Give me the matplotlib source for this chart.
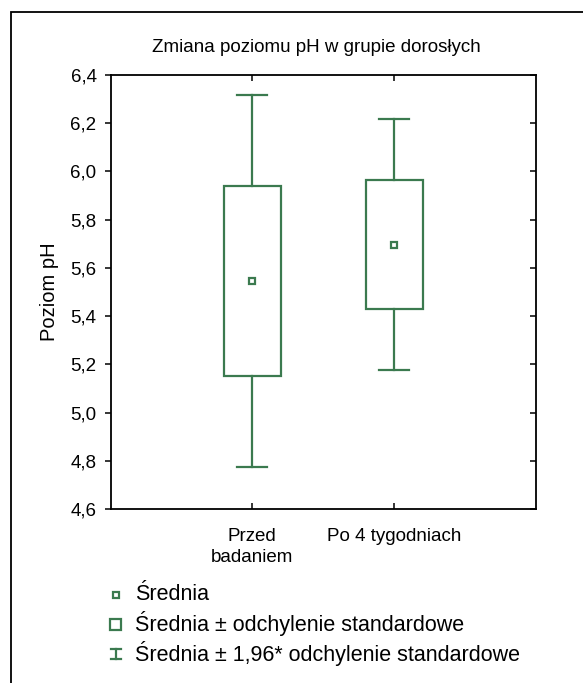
import matplotlib
matplotlib.use("Agg")
import matplotlib.pyplot as plt
from matplotlib.lines import Line2D
from matplotlib.patches import Rectangle
import numpy as np

plt.rcParams['font.family'] = ['Liberation Sans', 'DejaVu Sans']

# Data
categories = ["Przed\nbadaniem", "Po 4 tygodniach"]
means = [5.545, 5.697]
sds = [0.393, 0.266]
whisker_factor = 1.96
y_ticks = [4.6, 4.8, 5.0, 5.2, 5.4, 5.6, 5.8, 6.0, 6.2, 6.4]
y_tick_labels = ["4,6", "4,8", "5,0", "5,2", "5,4", "5,6", "5,8", "6,0", "6,2", "6,4"]
legend_labels = ["Średnia",
                 "Średnia ± odchylenie standardowe",
                 "Średnia ± 1,96* odchylenie standardowe"]

W, H = 583, 683
DPI = 100
green = "#3b7a4f"

fig = plt.figure(figsize=(W / DPI, H / DPI), dpi=DPI)

def fx(px):
    return px / W

def fy(py):
    return 1 - py / H

# outer frame (runs off the right and bottom edges)
fig.add_artist(Rectangle((fx(10.5), fy(800)), fx(700), fy(12.5) - fy(800),
                         transform=fig.transFigure, fill=False,
                         edgecolor="black", lw=1.3))

ax = fig.add_axes([fx(110.5), fy(509), fx(536) - fx(110.5), fy(75) - fy(509)])
x = np.arange(len(categories))
box_w = 0.40
cap_w = 0.21
lw = 1.6

for xi, m, s in zip(x, means, sds):
    lo, hi = m - s, m + s
    wlo, whi = m - whisker_factor * s, m + whisker_factor * s
    ax.add_patch(Rectangle((xi - box_w / 2, lo), box_w, hi - lo, fill=False,
                           edgecolor=green, lw=lw, zorder=3))
    ax.plot([xi, xi], [hi, whi], color=green, lw=lw, zorder=3)
    ax.plot([xi, xi], [wlo, lo], color=green, lw=lw, zorder=3)
    ax.plot([xi - cap_w / 2, xi + cap_w / 2], [whi, whi], color=green, lw=lw, zorder=3)
    ax.plot([xi - cap_w / 2, xi + cap_w / 2], [wlo, wlo], color=green, lw=lw, zorder=3)
    ax.plot([xi], [m], marker="s", ms=5, mfc="white", mec=green, mew=1.6, zorder=4)

ax.set_xlim(-1, 2)
ax.set_ylim(4.6, 6.4)
ax.set_xticks(x)
ax.set_xticklabels(categories, fontsize=13.5, linespacing=1.3)
ax.set_yticks(y_ticks)
ax.set_yticklabels(y_tick_labels, fontsize=13.5)
ax.tick_params(axis="x", direction="in", top=True, bottom=True, length=4,
               width=1.1, pad=14)
ax.tick_params(axis="y", direction="out", left=True, right=False, length=4,
               width=1.1, pad=6)
for sp in ax.spines.values():
    sp.set_linewidth(1.3)

ax_r = ax.twinx()
ax_r.set_ylim(ax.get_ylim())
ax_r.set_yticks(y_ticks)
ax_r.tick_params(axis="y", direction="in", length=4, width=1.1, labelright=False)
for sp in ax_r.spines.values():
    sp.set_visible(False)

ax.set_ylabel("Poziom pH", fontsize=14.5, labelpad=8)
fig.text(fx(316), fy(47), "Zmiana poziomu pH w grupie dorosłych",
         ha="center", va="center", fontsize=13.5)

# legend
rows_y = [595, 624, 654]
sym_x = 115.5
text_x = 135

fig.add_artist(Line2D([fx(sym_x)], [fy(rows_y[0])], marker="s", ms=4.5, mfc="white",
                      mec=green, mew=1.6, transform=fig.transFigure))
fig.add_artist(Rectangle((fx(sym_x - 5.5), fy(rows_y[1] + 5.5)), fx(11), fy(0) - fy(11),
                         transform=fig.transFigure, fill=False, edgecolor=green, lw=1.6))
yt, yb = rows_y[2] - 5, rows_y[2] + 5
for seg in ([(sym_x, yt), (sym_x, yb)],
            [(sym_x - 5, yt), (sym_x + 5, yt)],
            [(sym_x - 5, yb), (sym_x + 5, yb)]):
    (x0, y0), (x1, y1) = seg
    fig.add_artist(Line2D([fx(x0), fx(x1)], [fy(y0), fy(y1)], color=green, lw=1.6,
                          transform=fig.transFigure))

for yy, lab in zip(rows_y, legend_labels):
    fig.text(fx(text_x), fy(yy), lab, ha="left", va="center", fontsize=15.5)

fig.savefig("out.png", dpi=DPI)
